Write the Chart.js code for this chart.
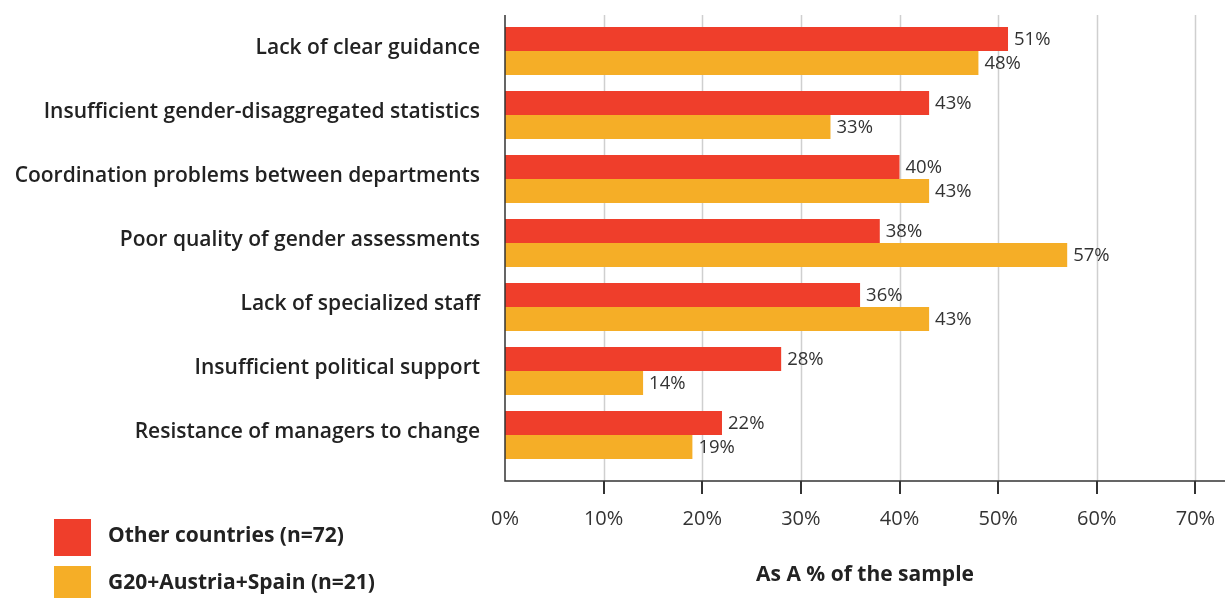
<!DOCTYPE html>
<html>
<head>
<meta charset="utf-8">
<script src="https://cdn.jsdelivr.net/npm/chart.js@4/dist/chart.umd.min.js"></script>
<style>
  html, body { margin: 0; padding: 0; background: #fff; }
  #wrap { width: 1225px; height: 598px; position: relative; }
</style>
</head>
<body>
<div id="wrap"><canvas id="myChart"></canvas></div>
<script>
const categories = [
  'Lack of clear guidance',
  'Insufficient gender-disaggregated statistics',
  'Coordination problems between departments',
  'Poor quality of gender assessments',
  'Lack of specialized staff',
  'Insufficient political support',
  'Resistance of managers to change'
];
const otherCountries = [51, 43, 40, 38, 36, 28, 22];
const g20Group = [48, 33, 43, 57, 43, 14, 19];
const seriesNames = ['Other countries (n=72)', 'G20+Austria+Spain (n=21)'];
const xTicks = [0, 10, 20, 30, 40, 50, 60, 70];
const axisTitle = 'As A % of the sample';

const RED = '#ef3e2b';
const ORANGE = '#f5ae27';
const FONT = "'Open Sans', 'Noto Sans', sans-serif";

// fixed axis boxes, no extra padding from tick labels
const fixBox = size => scale => {
  if (scale.isHorizontal()) scale.height = size; else scale.width = size;
  scale.paddingTop = 0;
  scale.paddingBottom = 0;
  scale.paddingLeft = 0;
  scale.paddingRight = 0;
};

// grid, axis lines and tick marks reach a bit beyond the bar area
const frame = {
  id: 'frame',
  beforeDatasetsDraw(chart) {
    const { ctx, chartArea, scales: { x } } = chart;
    const top = chartArea.top - 4;
    const bottom = chartArea.bottom + 14;
    ctx.save();
    ctx.lineWidth = 1.5;
    ctx.strokeStyle = '#cfcfcf';
    xTicks.forEach(v => {
      if (v === 0) return;
      const px = Math.round(x.getPixelForValue(v)) + 0.5;
      ctx.beginPath();
      ctx.moveTo(px, top);
      ctx.lineTo(px, bottom);
      ctx.stroke();
    });
    ctx.restore();
  },
  afterDatasetsDraw(chart) {
    const { ctx, chartArea, scales: { x } } = chart;
    const top = chartArea.top - 4;
    const bottom = chartArea.bottom + 14;
    ctx.save();
    ctx.strokeStyle = '#333';
    ctx.lineWidth = 1.5;
    ctx.beginPath();
    ctx.moveTo(chartArea.left, top);
    ctx.lineTo(chartArea.left, bottom);
    ctx.lineTo(chartArea.right, bottom);
    ctx.stroke();
    ctx.lineWidth = 2;
    xTicks.forEach(v => {
      if (v === 0) return;
      const px = Math.round(x.getPixelForValue(v));
      ctx.beginPath();
      ctx.moveTo(px, bottom);
      ctx.lineTo(px, bottom + 13);
      ctx.stroke();
    });

    // value labels at the end of each bar
    ctx.fillStyle = '#333';
    ctx.font = `18.5px ${FONT}`;
    ctx.textAlign = 'left';
    ctx.textBaseline = 'middle';
    chart.data.datasets.forEach((ds, i) => {
      chart.getDatasetMeta(i).data.forEach((bar, j) => {
        ctx.fillText(ds.data[j] + '%', bar.x + 6, bar.y + 1);
      });
    });
    ctx.restore();
  }
};

// legend squares bottom left
const legendBox = {
  id: 'legendBox',
  afterDraw(chart) {
    const { ctx } = chart;
    ctx.save();
    chart.data.datasets.forEach((ds, i) => {
      const y = 519 + i * 47;
      ctx.fillStyle = ds.backgroundColor;
      ctx.fillRect(54, y, 37, 37);
      ctx.fillStyle = '#222';
      ctx.font = `bold 21px ${FONT}`;
      ctx.textAlign = 'left';
      ctx.textBaseline = 'middle';
      ctx.fillText(ds.label, 108, y + 17);
    });
    ctx.restore();
  }
};

new Chart(document.getElementById('myChart'), {
  type: 'bar',
  data: {
    labels: categories,
    datasets: [
      { label: seriesNames[0], data: otherCountries, backgroundColor: RED },
      { label: seriesNames[1], data: g20Group, backgroundColor: ORANGE }
    ]
  },
  options: {
    indexAxis: 'y',
    responsive: true,
    maintainAspectRatio: false,
    animation: false,
    layout: { padding: { top: 19, right: 0, left: 0, bottom: 0 } },
    datasets: {
      bar: { categoryPercentage: 0.75, barPercentage: 1 }
    },
    plugins: {
      legend: { display: false },
      tooltip: { enabled: false }
    },
    scales: {
      x: {
        min: 0,
        max: 73,
        grid: { display: false, drawTicks: false },
        border: { display: false },
        afterBuildTicks(scale) {
          scale.ticks = xTicks.map(v => ({ value: v }));
        },
        afterFit: fixBox(131),
        ticks: {
          padding: 40,
          color: '#333',
          font: { family: FONT, size: 20 },
          callback: v => v + '%'
        },
        title: {
          display: true,
          text: axisTitle,
          color: '#222',
          font: { family: FONT, size: 21, weight: 'bold' },
          padding: { top: 0, bottom: 10 }
        }
      },
      y: {
        grid: { display: false, drawTicks: false },
        border: { display: false },
        afterFit: fixBox(505),
        ticks: {
          padding: 25,
          labelOffset: -3,
          color: '#222',
          font: { family: FONT, size: 21, weight: 600 }
        }
      }
    }
  },
  plugins: [frame, legendBox]
});
</script>
</body>
</html>
